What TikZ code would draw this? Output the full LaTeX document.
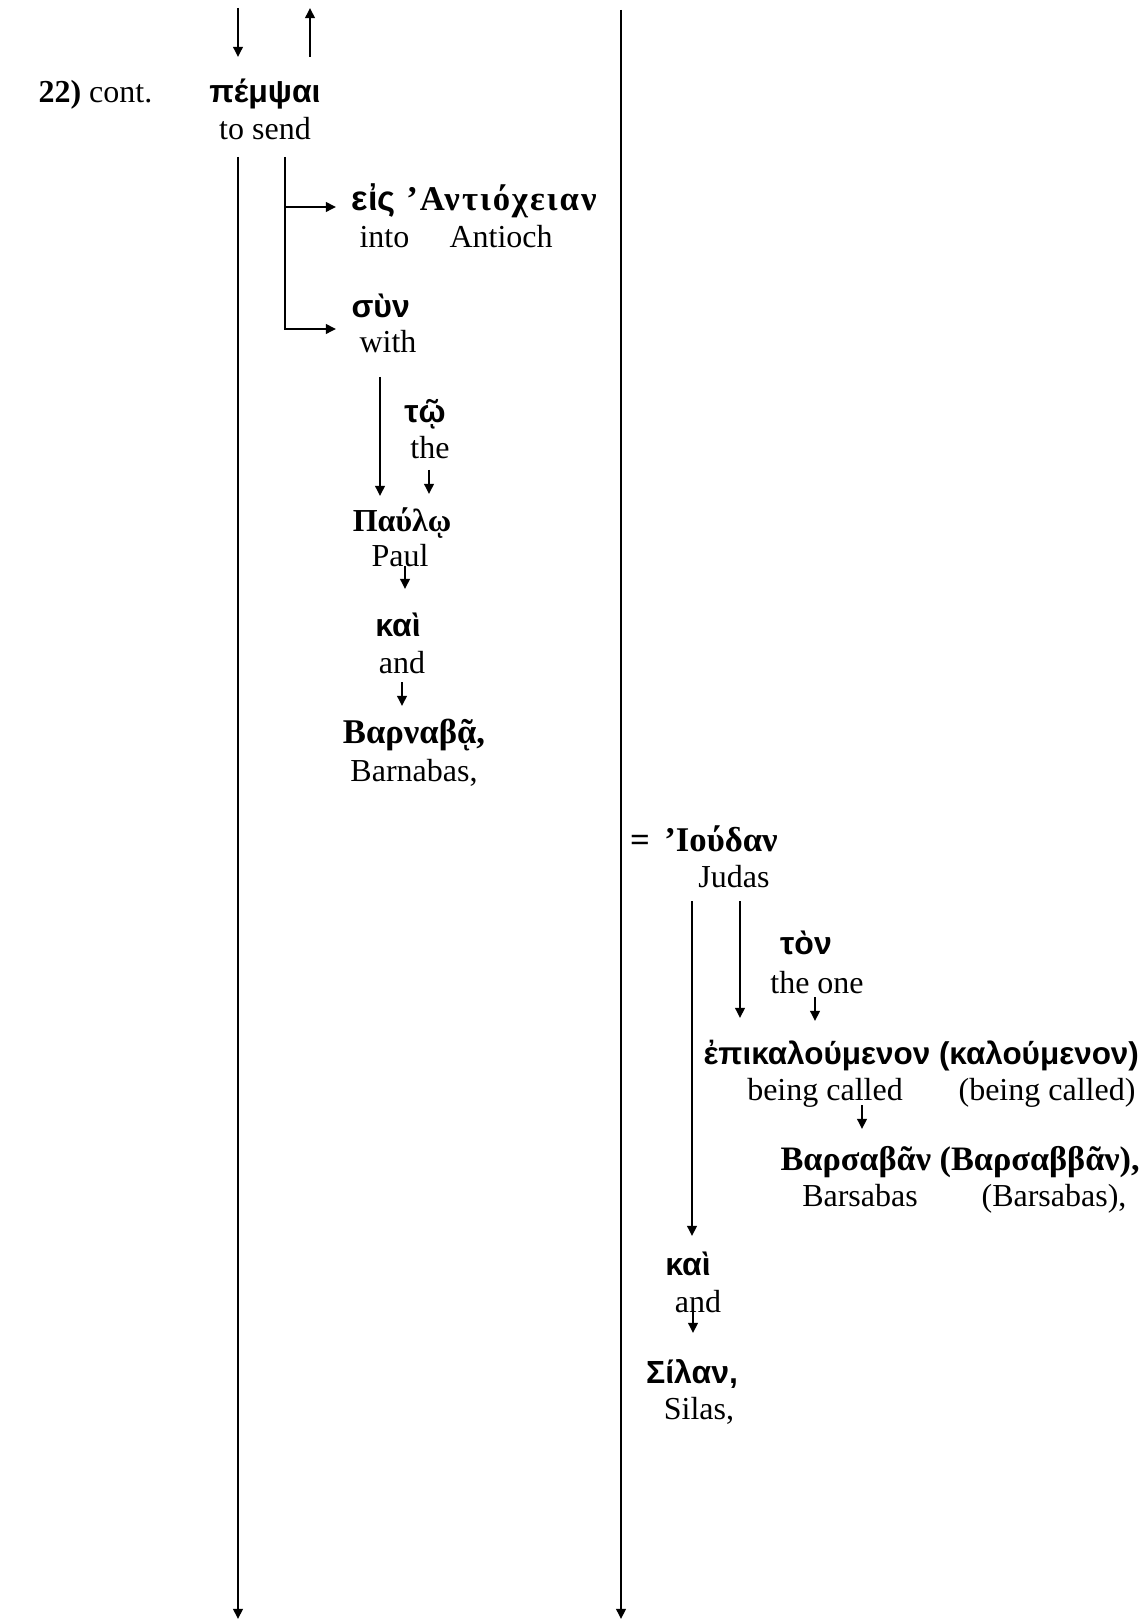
\documentclass[12pt,tikz,border=0pt]{standalone}
\usepackage{fontspec}
\setmainfont{Liberation Serif}
\newfontfamily\grsans{Liberation Sans}
\usetikzlibrary{arrows.meta}

\begin{document}
\begin{tikzpicture}[x=0.375pt,y=-0.375pt,
    word/.style={inner sep=0pt,text height=0.7em,text depth=0.2em,yshift=-1.5pt},
    grk/.style={word,font=\fontsize{13}{15}\selectfont\bfseries},
    grks/.style={word,font=\grsans\bfseries},
    arr/.style={line width=0.75pt,-{Triangle[length=3.8pt,width=3.6pt]}}]

    \useasboundingbox (0,0) rectangle (1144,1621);

    % verse and main verb
    \node[word,anchor=west] (num) at (38,91) {\textbf{22)} cont.};
    \node[grks] (pempsai) at (265,91) {πέμψαι};
    \node[word] (tosend) at (265,128) {to send};

    \node[grk,anchor=west] (eis) at (351,199)
        {{\grsans εἰς}\hspace{4pt}{\addfontfeature{LetterSpace=6}’Αντιόχειαν}};
    \node[word,anchor=west] (into) at (359,236) {into};
    \node[word,anchor=west] (antioch) at (449,236) {Antioch};
    \node[grks,anchor=west] (syn) at (351,306) {σὺν};
    \node[word,anchor=west] (with) at (359,341) {with};

    \node[grks] (tw) at (425,411) {τῷ};
    \node[word] (the) at (430,447) {the};
    \node[grk,font=\bfseries] (paulw) at (402,519) {Παύλῳ};
    \node[word] (paul) at (400,555) {Paul};
    \node[grks] (kai) at (398,624) {καὶ};
    \node[word] (and) at (402,661) {and};
    \node[grk] (barnaba) at (414,731) {Βαρναβᾷ,};
    \node[word] (barnabas) at (414,769) {Barnabas,};

    % apposition
    \node[grk] (eq) at (640,839) {=};
    \node[grk] (iouda) at (721,839) {’Ιούδαν};
    \node[word] (judas) at (734,875) {Judas};
    \node[grks] (ton) at (806,942) {τὸν};
    \node[word] (theone) at (817,981) {the one};
    \node[grks,anchor=west,font=\fontsize{11.8}{14}\selectfont\grsans\bfseries] (epik)
        at (703,1052) {ἐπικαλούμενον (καλούμενον)};
    \node[word] (called) at (825,1088) {being called};
    \node[word] (calledb) at (1047,1088) {(being called)};
    \node[grk,anchor=west,font=\fontsize{12.85}{15}\selectfont\bfseries] (barsaba)
        at (780,1158) {Βαρσαβᾶν (Βαρσαββᾶν),};
    \node[word] (barsabas) at (860,1194) {Barsabas};
    \node[word] (barsabasb) at (1054,1194) {(Barsabas),};
    \node[grks] (kaib) at (688,1263) {καὶ};
    \node[word] (andb) at (698,1300) {and};
    \node[grks] (silan) at (692,1371) {Σίλαν,};
    \node[word] (silas) at (699,1407) {Silas,};

    % arrow ends
    \coordinate (inA) at (238,8);      \coordinate (inB) at (238,57);
    \coordinate (outA) at (310,57);    \coordinate (outB) at (310,8);
    \coordinate (lineL) at (238,157);  \coordinate (lineLend) at (238,1619);
    \coordinate (lineR) at (621,10);   \coordinate (lineRend) at (621,1619);
    \coordinate (brA) at (285,157);
    \coordinate (brB) at (336,207);    \coordinate (brC) at (336,329);
    \coordinate (synA) at (380,377);   \coordinate (synB) at (380,496);
    \coordinate (theA) at (429,470);   \coordinate (theB) at (429,494);
    \coordinate (paulA) at (405,566);  \coordinate (paulB) at (405,589);
    \coordinate (andA) at (402,682);   \coordinate (andB) at (402,706);
    \coordinate (judA) at (692,901);   \coordinate (judB) at (692,1236);
    \coordinate (judC) at (740,901);   \coordinate (judD) at (740,1018);
    \coordinate (oneA) at (815,997);   \coordinate (oneB) at (815,1021);
    \coordinate (calA) at (862,1105);  \coordinate (calB) at (862,1129);
    \coordinate (andbA) at (693,1312); \coordinate (andbB) at (693,1333);

    \draw[arr] (inA) -- (inB);
    \draw[arr] (outA) -- (outB);
    \draw[arr] (lineL) -- (lineLend);
    \draw[arr] (lineR) -- (lineRend);
    \draw[arr] (brA) |- (brC);
    \draw[arr] (brA |- brB) -- (brB);
    \foreach \a/\b in {synA/synB, theA/theB, paulA/paulB, andA/andB,
                       judA/judB, judC/judD, oneA/oneB, calA/calB, andbA/andbB}
    \draw[arr] (\a) -- (\b);
\end{tikzpicture}
\end{document}
